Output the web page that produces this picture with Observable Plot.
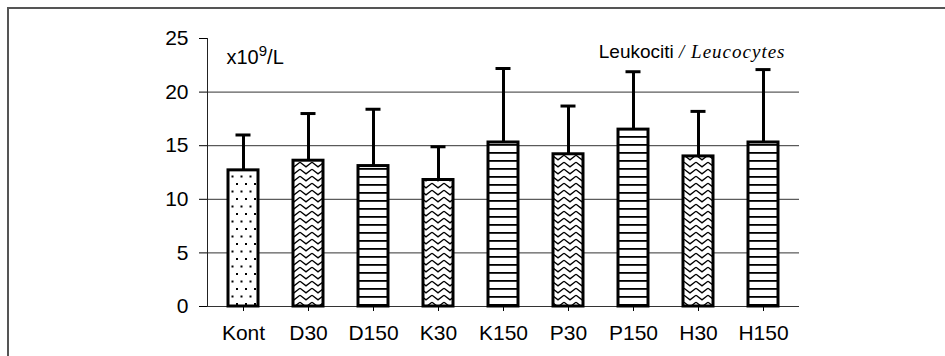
<!DOCTYPE html>
<html><head><meta charset="utf-8">
<script src="https://cdn.jsdelivr.net/npm/d3@7"></script>
<script src="https://cdn.jsdelivr.net/npm/@observablehq/plot@0.6"></script>
<style>
body{margin:0;background:#fff;overflow:hidden;}
#wrap{position:relative;width:945px;height:356px;overflow:hidden;}
#border{position:absolute;left:7px;top:7px;width:1000px;height:400px;border-top:2px solid #555;border-left:2px solid #555;}
#chart{position:absolute;left:0;top:0;}
</style></head><body><div id="wrap"><div id="border"></div><div id="chart"></div></div>
<script>
const categories = ["Kont","D30","D150","K30","K150","P30","P150","H30","H150"];
const means = [12.7,13.6,13.1,11.8,15.3,14.2,16.5,14.0,15.3];
const sds = [3.3,4.4,5.3,3.1,6.9,4.5,5.4,4.2,6.8];
const fills = ["dots","zigzag","stripes","zigzag","stripes","zigzag","stripes","zigzag","stripes"];
const yTicks = [0,5,10,15,20,25];
const unitBase = "x10", unitExp = "9", unitRest = "/L";
const titleLocal = "Leukociti";
const titleEnglish = "/ Leucocytes";

const data = categories.map((c,i)=>({cat:c, mean:means[i], upper:means[i]+sds[i], fill:fills[i]}));

const plot = Plot.plot({
  width:945, height:356,
  marginLeft:207, marginRight:146, marginTop:38, marginBottom:50,
  style:{fontFamily:"'Liberation Sans', Arial, sans-serif", fontSize:"21px", color:"#000", background:"transparent", overflow:"visible"},
  x:{domain:categories, paddingInner:0.54, paddingOuter:0.27, label:null, tickSize:5, tickPadding:14},
  y:{domain:[0,25], ticks:yTicks, label:null, tickSize:8, tickPadding:11},
  marks:[
    Plot.gridY(yTicks.filter(t=>t>0&&t<25), {stroke:"#333", strokeOpacity:1, strokeWidth:1}),
    Plot.frame({anchor:"left", stroke:"#222"}),
    Plot.ruleY([0], {stroke:"#333"}),
    Plot.barY(data, {x:"cat", y:"mean", fill:d=>`url(#pat-${d.fill})`, stroke:"#000", strokeWidth:3}),
    Plot.ruleX(data, {x:"cat", y1:"mean", y2:"upper", stroke:"#000", strokeWidth:3}),
    Plot.tickY(data, {x:"cat", y:"upper", stroke:"#000", strokeWidth:3, insetLeft:7.5, insetRight:7.5}),
    Plot.text([unitBase], {frameAnchor:"top-left", dx:19, dy:11, textAnchor:"start", fontSize:20, className:"unit-label"}),
    Plot.text([titleLocal], {frameAnchor:"top-right", dx:-14, dy:6, textAnchor:"end", fontSize:19, className:"title-label"})
  ]
});

// pattern defs
const ns = "http://www.w3.org/2000/svg";
const defs = document.createElementNS(ns, "defs");
defs.innerHTML = `
<pattern id="pat-dots" patternUnits="userSpaceOnUse" width="9" height="15">
  <rect width="9" height="15" fill="#fff"/>
  <rect x="2" y="3" width="2" height="2" fill="#000"/>
  <rect x="6.5" y="10.5" width="2" height="2" fill="#000"/>
</pattern>
<pattern id="pat-zigzag" patternUnits="userSpaceOnUse" width="12" height="7">
  <rect width="12" height="7" fill="#fff"/>
  <path d="M0,1.2 L6,5.8 L12,1.2" fill="none" stroke="#000" stroke-width="1.4"/>
</pattern>
<pattern id="pat-stripes" patternUnits="userSpaceOnUse" width="8" height="8">
  <rect width="8" height="8" fill="#fff"/>
  <rect x="0" y="0" width="8" height="1.8" fill="#000"/>
</pattern>`;
plot.insertBefore(defs, plot.firstChild);

// mixed-style text via tspans
const unitText = plot.querySelector(".unit-label text");
if (unitText) {
  unitText.textContent = "";
  const t1 = document.createElementNS(ns,"tspan"); t1.textContent = unitBase;
  const t2 = document.createElementNS(ns,"tspan"); t2.textContent = unitExp; t2.setAttribute("dy","-8"); t2.setAttribute("font-size","15");
  const t3 = document.createElementNS(ns,"tspan"); t3.textContent = unitRest; t3.setAttribute("dy","8");
  unitText.append(t1,t2,t3);
}
const titleText = plot.querySelector(".title-label text");
if (titleText) {
  titleText.textContent = "";
  const a = document.createElementNS(ns,"tspan"); a.textContent = titleLocal + " ";
  const b = document.createElementNS(ns,"tspan"); b.textContent = titleEnglish;
  b.setAttribute("font-family","'Liberation Serif', 'Times New Roman', serif");
  b.setAttribute("font-style","italic"); b.setAttribute("font-size","19");
  b.setAttribute("letter-spacing","1");
  titleText.append(a,b);
}
document.getElementById("chart").appendChild(plot);
</script></body></html>
